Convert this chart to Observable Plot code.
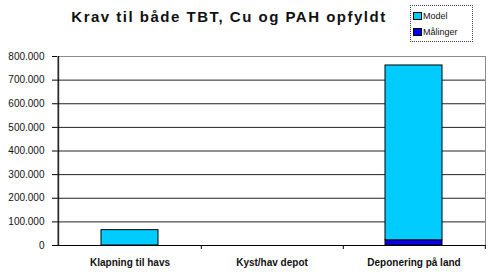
<!DOCTYPE html>
<html>
<head>
<meta charset="utf-8">
<script src="https://cdn.jsdelivr.net/npm/d3@7"></script>
<script src="https://cdn.jsdelivr.net/npm/@observablehq/plot@0.6"></script>
<style>
  html, body { margin: 0; padding: 0; background: #fff; }
  #chart { position: relative; width: 490px; height: 275px; font-family: "Liberation Sans", Arial, sans-serif; }
  #title { position: absolute; left: 0; top: 8px; width: 458px; text-align: center; font-weight: bold; font-size: 15px; letter-spacing: 1.5px; color: #111; }
  #legend { position: absolute; left: 410px; top: 5px; width: 63px; height: 37px; border: 1px dotted #444; box-sizing: border-box; font-size: 9px; color: #111; padding: 2px 0 0 2px; }
  #legend .item { display: flex; align-items: center; height: 16px; }
  #legend .sw { width: 7px; height: 6px; border: 1px solid #000; margin-right: 1px; }
  svg { display: block; }
</style>
</head>
<body>
<div id="chart">
  <div id="title">Krav til både TBT, Cu og PAH opfyldt</div>
  <div id="legend"></div>
</div>
<script>
// Disposal routes (x categories)
const categories = ["Klapning til havs", "Kyst/hav depot", "Deponering på land"];
// Series, drawn bottom to top
const seriesNames = ["Målinger", "Model"];
const seriesColors = ["#0000ee", "#00ccff"];
// Amounts per category
const maalinger = [0, 0, 22000];
const model = [65000, 0, 740000];
// Y axis ticks
const yTicks = [0, 100000, 200000, 300000, 400000, 500000, 600000, 700000, 800000];

const values = { "Målinger": maalinger, "Model": model };
const rows = [];
for (const s of seriesNames) {
  categories.forEach((c, i) => {
    if (values[s][i] > 0) rows.push({ category: c, series: s, value: values[s][i] });
  });
}

const fmt = d3.formatLocale({ thousands: ".", grouping: [3], decimal: "," }).format(",");

const width = 490, height = 275;
const marginLeft = 57, marginRight = 5;
const halfStep = (width - marginLeft - marginRight) / categories.length / 2;

const chart = Plot.plot({
  width, height,
  marginTop: 56, marginRight, marginBottom: 30, marginLeft,
  style: { fontFamily: "'Liberation Sans', Arial, sans-serif", color: "#111", background: "#fff" },
  x: { domain: categories, paddingInner: 0.6, paddingOuter: 0.3, label: null },
  y: { domain: [0, 800000], label: null },
  color: { domain: seriesNames, range: seriesColors },
  marks: [
    Plot.frame({ stroke: "#8c8c8c" }),
    Plot.ruleY(yTicks.filter(d => d > 0 && d < 800000), { stroke: "#222" }),
    Plot.barY(rows, { x: "category", y: "value", fill: "series", stroke: "#000", strokeWidth: 1, order: seriesNames }),
    // Category separators below the axis
    Plot.ruleX(categories, { x: d => d, dx: halfStep, y1: 0, y2: 0, insetBottom: -4, stroke: "#000" }),
    Plot.axisY({ ticks: yTicks, tickFormat: fmt, tickSize: 5, tickPadding: 8, fontSize: 10, letterSpacing: 1, stroke: "#000" }),
    Plot.axisX({ tickSize: 0, tickPadding: 13, fontSize: 10, fontWeight: "bold", letterSpacing: 0.3 }),
    Plot.ruleX([categories[0]], { dx: -halfStep, stroke: "#000" }),
    Plot.ruleY([0], { stroke: "#000" })
  ]
});
document.getElementById("chart").appendChild(chart);

// Legend
const legend = document.getElementById("legend");
[...seriesNames].reverse().forEach(s => {
  const item = document.createElement("div");
  item.className = "item";
  const sw = document.createElement("span");
  sw.className = "sw";
  sw.style.background = seriesColors[seriesNames.indexOf(s)];
  const t = document.createElement("span");
  t.textContent = s;
  item.appendChild(sw);
  item.appendChild(t);
  legend.appendChild(item);
});
</script>
</body>
</html>
